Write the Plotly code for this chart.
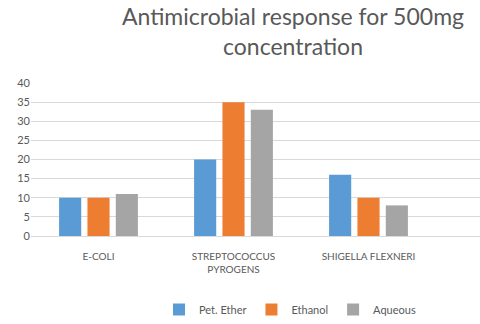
import plotly.graph_objects as go

categories = ["E-COLI", "STREPTOCOCCUS<br>PYROGENS", "SHIGELLA FLEXNERI"]
pet_ether = [10, 20, 16]
ethanol = [10, 35, 10]
aqueous = [11, 33, 8]
series_names = ["Pet. Ether", "Ethanol", "Aqueous"]
colors = ["#5b9bd5", "#ed7d31", "#a5a5a5"]

fig = go.Figure()
for name, vals, col in zip(series_names, [pet_ether, ethanol, aqueous], colors):
    fig.add_trace(go.Bar(x=categories, y=vals, name=name, marker_color=col,
                         marker_line_width=0))

font_fam = "Lato, 'Open Sans', sans-serif"
fig.update_layout(
    width=480, height=324,
    margin=dict(l=31, r=0, t=83, b=86),
    paper_bgcolor="white", plot_bgcolor="white",
    barmode="group", bargap=0.37, bargroupgap=0.22,
    font=dict(family=font_fam, color="#595959", size=10),
    title=dict(text="Antimicrobial response for 500mg<br>concentration",
               x=293/480, xanchor="center", xref="container",
               y=1 - 25/324, yanchor="middle", yref="container",
               font=dict(size=23, color="#595959", family=font_fam)),
    legend=dict(orientation="h", x=(290-31)/449, xanchor="center",
                y=(238-313)/155, yanchor="middle",
                font=dict(size=11, color="#595959"),
                itemwidth=30, tracegroupgap=0, bgcolor="rgba(0,0,0,0)"),
    xaxis=dict(range=[-0.5, -0.5 + 449/135], showgrid=False, showline=False,
               ticks="", ticklabelstandoff=13,
               tickfont=dict(size=10, color="#595959")),
    yaxis=dict(range=[0, 40], dtick=5, showgrid=True, gridcolor="#d9d9d9",
               gridwidth=1, zeroline=True, zerolinecolor="#d9d9d9",
               zerolinewidth=1, ticks="", showline=False,
               tickfont=dict(size=11, color="#595959")),
)

fig.write_html("out.html")
